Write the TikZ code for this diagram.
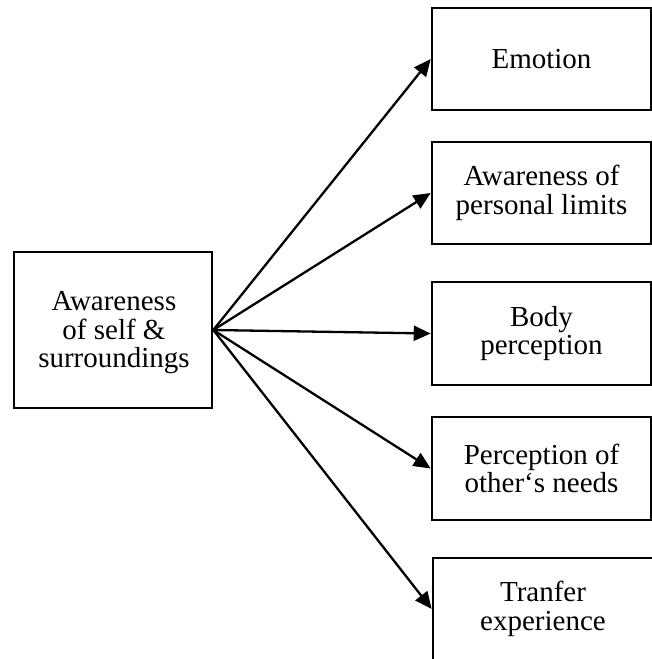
\documentclass[tikz,border=0pt]{standalone}
\usepackage{fontspec}
\setmainfont{Liberation Serif}
\usetikzlibrary{arrows.meta}
\begin{document}
\begin{tikzpicture}[x=1pt,y=-1pt,
  box/.style={draw=black,line width=2.6pt,inner sep=0pt,align=center,
    font=\fontsize{29}{28.5}\selectfont},
  link/.style={line width=2.3pt,-{Triangle[length=17pt,width=15pt]}}]
  \useasboundingbox (0,0) rectangle (652,659);
  % source box
  \node[box,minimum width=198,minimum height=156] (src) at (113,330) {};
  \node[font=\fontsize{29}{28.5}\selectfont,align=center,inner sep=0pt]
    (srctext) at (114,333) {Awareness\\of self \&\\surroundings};
  % target boxes
  \node[box,minimum width=219,minimum height=102] (b1) at (541.5,59) {Emotion};
  \node[box,minimum width=219,minimum height=102] (b2) at (541.5,193)
    {Awareness of\\personal limits};
  \node[box,minimum width=219,minimum height=103] (b3) at (541.5,333.5)
    {Body\\perception};
  \node[box,minimum width=219,minimum height=103] (b4) at (541.5,468.5)
    {Perception of\\other‘s needs};
  \node[box,minimum width=220,minimum height=102] (b5) at (543,609)
    {Tranfer\\experience};
  % connectors
  \foreach \t in {b1,b2,b3,b4,b5}
    \draw[link] (src.east) -- (\t.west);
\end{tikzpicture}
\end{document}
